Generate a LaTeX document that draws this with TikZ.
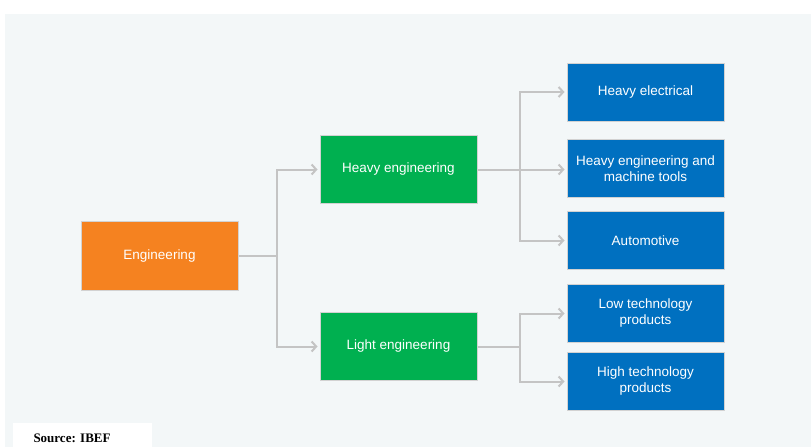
\documentclass[tikz,border=0pt]{standalone}
\usepackage{fontspec}
\setmainfont{Liberation Sans}
\newfontfamily\srcfont{Liberation Serif}
\usetikzlibrary{arrows.meta}
\definecolor{bgpanel}{HTML}{F3F7F8}
\definecolor{engorange}{HTML}{F58220}
\definecolor{enggreen}{HTML}{00B050}
\definecolor{engblue}{HTML}{0070C0}
\definecolor{conngray}{HTML}{C4C4C4}
\begin{document}
\begin{tikzpicture}
[
    x=1pt, y=-1pt,
    every node/.style={shape=rectangle, draw=gray!35, line width=1pt, text=white, align=center,
        font=\fontsize{13.5}{16}\selectfont, inner sep=0pt},
    rootbox/.style={fill=engorange, minimum width=157pt, minimum height=69pt},
    midbox/.style={fill=enggreen, minimum width=157pt, minimum height=68pt},
    leafbox/.style={fill=engblue, minimum width=157pt, minimum height=58pt},
    conn/.style={draw=conngray, line width=2pt},
    arr/.style={conn, -{Straight Barb[length=4.5pt,width=10pt]}},
]
\useasboundingbox (0,0) rectangle (811,447);
\fill[bgpanel] (5,14) rectangle (811,447);
\fill[white] (13,423) rectangle (152,447);

\node(eng) at (159.5,256) [rootbox]{Engineering};

\node(he) at (398.5,169.5) [midbox]{Heavy engineering};
\node(le) at (398.5,346.5) [midbox]{Light engineering};

\node(he1) at (645.5,92) [leafbox]{Heavy electrical};
\node(he2) at (645.5,168.5) [leafbox]{Heavy engineering and\\machine tools};
\node(he3) at (645.5,240.5) [leafbox]{Automotive};
\node(le1) at (645.5,313.5) [leafbox]{Low technology\\products};
\node(le2) at (645.5,381.5) [leafbox]{High technology\\products};

\coordinate(j0) at (277,256);
\coordinate(j1) at (520,169.5);
\coordinate(j2) at (520,346.5);

\draw[conn] (eng) -- (j0);
\draw[arr] (j0) |- ([xshift=-2pt]he.west);
\draw[arr] (j0) |- ([xshift=-2pt]le.west);

\draw[conn] (he) -- (j1);
\draw[arr] (j1) |- ([xshift=-2pt]he1.west);
\draw[arr] (j1) -- ([xshift=-2pt]he2.west |- j1);
\draw[arr] (j1) |- ([xshift=-2pt]he3.west);

\draw[conn] (le) -- (j2);
\draw[arr] (j2) |- ([xshift=-2pt]le1.west);
\draw[arr] (j2) |- ([xshift=-2pt]le2.west);

\node(src) at (33,442) [draw=none, anchor=base west, text=black, font=\srcfont\bfseries\fontsize{13}{15}\selectfont]{Source: IBEF};
\end{tikzpicture}
\end{document}
